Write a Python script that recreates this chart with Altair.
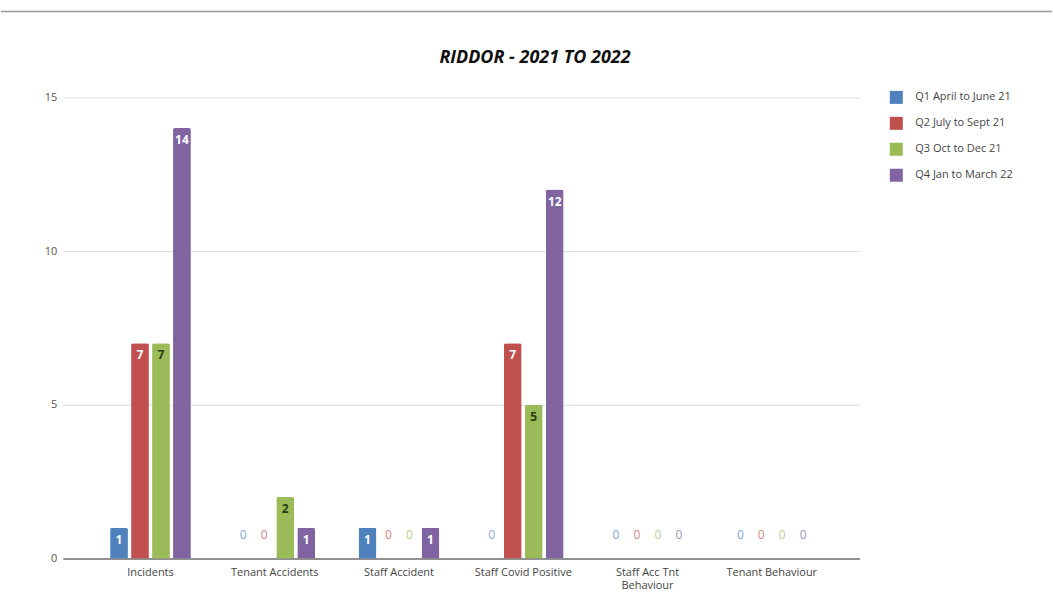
import altair as alt
import pandas as pd

categories = ["Incidents", "Tenant Accidents", "Staff Accident", "Staff Covid Positive",
              "Staff Acc Tnt Behaviour", "Tenant Behaviour"]
series = ["Q1 April to June 21", "Q2 July to Sept 21", "Q3 Oct to Dec 21", "Q4 Jan to March 22"]
q1 = [1, 0, 1, 0, 0, 0]
q2 = [7, 0, 0, 7, 0, 0]
q3 = [7, 2, 0, 5, 0, 0]
q4 = [14, 1, 1, 12, 0, 0]
colors = ["#4F81BD", "#C0504D", "#9BBB59", "#8064A2"]
title_text = "RIDDOR - 2021 TO 2022"

rows = []
for s, vals in zip(series, [q1, q2, q3, q4]):
    for c, v in zip(categories, vals):
        rows.append({"category": c, "series": s, "value": v})
df = pd.DataFrame(rows)

FONT = "Open Sans"
W, H = 798, 462

xenc = alt.X("category:N", sort=categories, title=None,
             scale=alt.Scale(paddingInner=0.35, paddingOuter=0.38),
             axis=alt.Axis(labelAngle=0, labelFont=FONT, labelFontSize=11, labelColor="#444",
                           labelPadding=8, ticks=False, grid=False, domainColor="#333", domainWidth=1.2,
                           labelExpr="datum.value == 'Staff Acc Tnt Behaviour' ? ['Staff Acc Tnt', 'Behaviour'] : datum.value"))
xoff = alt.XOffset("series:N", sort=series, scale=alt.Scale(paddingInner=0.15))
yenc = alt.Y("value:Q", title=None, scale=alt.Scale(domain=[0, 15], nice=False),
             axis=alt.Axis(values=[0, 5, 10, 15], labelFont=FONT, labelFontSize=11, labelColor="#555",
                           ticks=False, domain=False, grid=True, gridColor="#dddddd", labelPadding=6))
cenc = alt.Color("series:N", sort=series, scale=alt.Scale(domain=series, range=colors),
                 legend=alt.Legend(title=None, orient="none", legendX=828, legendY=-7,
                                   symbolType="square", symbolSize=170, symbolStrokeWidth=0,
                                   labelFont=FONT, labelFontSize=11, labelColor="#444",
                                   rowPadding=12, labelOffset=12))

base = alt.Chart(df)

bars = base.mark_bar(cornerRadiusTopLeft=2, cornerRadiusTopRight=2).encode(
    x=xenc, xOffset=xoff, y=yenc, color=cenc)

inside = base.transform_filter("datum.value > 0").mark_text(
    baseline="middle", dy=12, font=FONT, fontSize=12, fontWeight="bold").encode(
    x=alt.X("category:N", sort=categories), xOffset=xoff, y=alt.Y("value:Q"),
    text="value:Q",
    color=alt.condition("datum.series == 'Q3 Oct to Dec 21'", alt.value("#2b3a10"), alt.value("white")))

zeros = base.transform_filter("datum.value == 0").mark_text(
    baseline="middle", dy=-24, font=FONT, fontSize=12, opacity=0.7).encode(
    x=alt.X("category:N", sort=categories), xOffset=xoff, y=alt.Y("value:Q"),
    text="value:Q",
    color=alt.Color("series:N", sort=series, scale=alt.Scale(domain=series, range=colors), legend=None))

deco = alt.Chart(pd.DataFrame({"t": [title_text]}))
topline = deco.mark_rule(color="#999", strokeWidth=1.5).encode(
    x=alt.value(-62), x2=alt.value(991), y=alt.value(-86))
title = deco.mark_text(font=FONT, fontSize=18, fontStyle="italic", fontWeight="bold",
                       color="#111", baseline="middle", align="center").encode(
    x=alt.value(473), y=alt.value(-39), text="t:N")

chart = alt.layer(topline, title, bars, inside, zeros).properties(
    width=W, height=H,
    padding={"left": 0, "top": 10, "right": 0, "bottom": 0},
).configure_view(stroke=None)

chart.save("out.html", embed_options={"renderer": "svg", "actions": False})
